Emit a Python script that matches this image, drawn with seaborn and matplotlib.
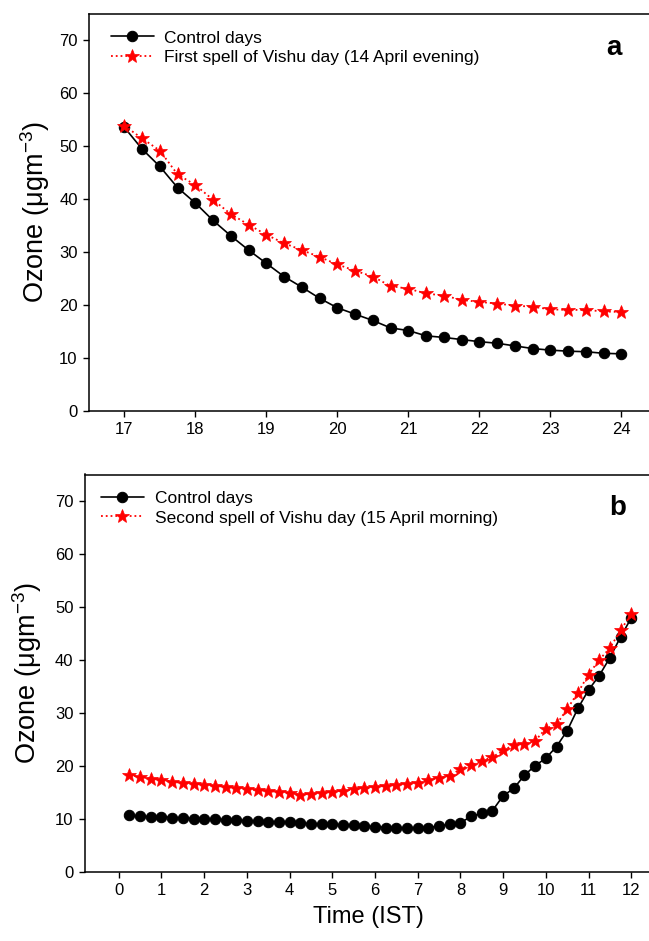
import numpy as np
import pandas as pd
import matplotlib
matplotlib.use("Agg")
import matplotlib.pyplot as plt
import seaborn as sns

# ---- data ----
time_a = [17 + 0.25 * i for i in range(29)]
control_a = [53.6, 49.5, 46.2, 42.2, 39.3, 36.0, 33.1, 30.4, 27.9, 25.4, 23.4, 21.3, 19.5, 18.3, 17.1,
             15.7, 15.2, 14.2, 13.9, 13.5, 13.1, 12.8, 12.3, 11.8, 11.5, 11.3, 11.2, 10.9, 10.8]
vishu_a = [53.9, 51.5, 49.2, 44.7, 42.7, 39.9, 37.2, 35.2, 33.3, 31.7, 30.4, 29.1, 27.7, 26.5, 25.4,
           23.6, 23.1, 22.2, 21.8, 21.0, 20.6, 20.3, 19.9, 19.7, 19.2, 19.1, 19.1, 18.8, 18.7]

time_b = [0.25 * (i + 1) for i in range(48)]
control_b = [10.6, 10.4, 10.35, 10.3, 10.2, 10.1, 10.0, 9.9, 9.85, 9.8, 9.7, 9.6, 9.5, 9.4, 9.35, 9.3,
             9.15, 9.0, 8.95, 8.9, 8.8, 8.7, 8.6, 8.45, 8.3, 8.2, 8.2, 8.15, 8.3, 8.6, 8.9, 9.2,
             10.4, 11.0, 11.5, 14.3, 15.7, 18.2, 20.0, 21.4, 23.6, 26.6, 30.8, 34.3, 37.0, 40.4, 44.3, 47.9]
vishu_b = [18.2, 17.9, 17.55, 17.3, 17.0, 16.7, 16.5, 16.4, 16.2, 16.0, 15.7, 15.5, 15.4, 15.2, 15.0, 14.8,
           14.5, 14.7, 14.8, 15.1, 15.3, 15.5, 15.7, 15.95, 16.2, 16.4, 16.5, 16.8, 17.3, 17.7, 18.0, 19.4,
           20.1, 20.9, 21.6, 22.9, 23.9, 24.1, 24.7, 27.0, 27.8, 30.7, 33.8, 37.2, 40.0, 42.2, 45.6, 48.6]

labels_a = ["Control days", "First spell of Vishu day (14 April evening)"]
labels_b = ["Control days", "Second spell of Vishu day (15 April morning)"]
xticks_a = list(range(17, 25))
xticks_b = list(range(0, 13))
yticks = list(range(0, 80, 10))

sns.set_style("ticks")
plt.rcParams['font.family'] = ['Liberation Sans', 'DejaVu Sans']
plt.rcParams['mathtext.fontset'] = 'custom'
plt.rcParams['mathtext.rm'] = 'Liberation Sans'
plt.rcParams['mathtext.it'] = 'Liberation Sans'
plt.rcParams['text.color'] = 'black'
plt.rcParams['axes.labelcolor'] = 'black'
plt.rcParams['xtick.color'] = 'black'
plt.rcParams['ytick.color'] = 'black'

W, H = 649, 941
fig = plt.figure(figsize=(W / 100, H / 100), dpi=100)

ax_a = fig.add_axes([88.8 / W, 1 - 411 / H, 568 / W, 397 / H])
ax_b = fig.add_axes([84.6 / W, 1 - 871.5 / H, 568 / W, 397 / H])


def draw(ax, t, c, v, labels, xlim, xticks, letter, legx, letterx):
    df_c = pd.DataFrame({"t": t, "v": c})
    df_v = pd.DataFrame({"t": t, "v": v})
    sns.lineplot(data=df_c, x="t", y="v", ax=ax, color="black", lw=1.2, marker="o",
                 markersize=7.5, markeredgecolor="black", label=labels[0])
    sns.lineplot(data=df_v, x="t", y="v", ax=ax, color="red", lw=1.3, linestyle=":", marker="*",
                 markersize=10, markeredgecolor="red", markeredgewidth=0.5, label=labels[1])
    ax.set_xlim(*xlim)
    ax.set_ylim(0, 75)
    ax.set_xticks(xticks)
    ax.set_yticks(yticks)
    ax.tick_params(direction="out", length=4, width=1, labelsize=12, colors="black", pad=4)
    for s in ax.spines.values():
        s.set_linewidth(1.1)
        s.set_color("black")
    ax.set_ylabel(r"Ozone ($\mathregular{\mu gm^{-3}}$)", fontsize=19.5, color="black")
    ax.set_xlabel("")
    leg = ax.legend(loc="upper left", bbox_to_anchor=(legx, 0.985), frameon=False, fontsize=12.5,
                    handlelength=2.5, handletextpad=0.6, labelspacing=0.25, borderaxespad=0.2)
    for txt in leg.get_texts():
        txt.set_color("black")
    ax.text(letterx, 0.915, letter, transform=ax.transAxes, fontsize=20, fontweight="bold",
            ha="center", va="center", color="black")


draw(ax_a, time_a, control_a, vishu_a, labels_a, (16.5, 24.5), xticks_a, "a", 0.02, 0.924)
draw(ax_b, time_b, control_b, vishu_b, labels_b, (-0.8, 12.5), xticks_b, "b", 0.01, 0.938)
ax_a.yaxis.set_label_coords(-0.064, 0.5)
ax_b.yaxis.set_label_coords(-0.072, 0.5)
ax_b.set_xlabel("Time (IST)", fontsize=17, labelpad=6, color="black")

fig.savefig("out.png", dpi=100)
